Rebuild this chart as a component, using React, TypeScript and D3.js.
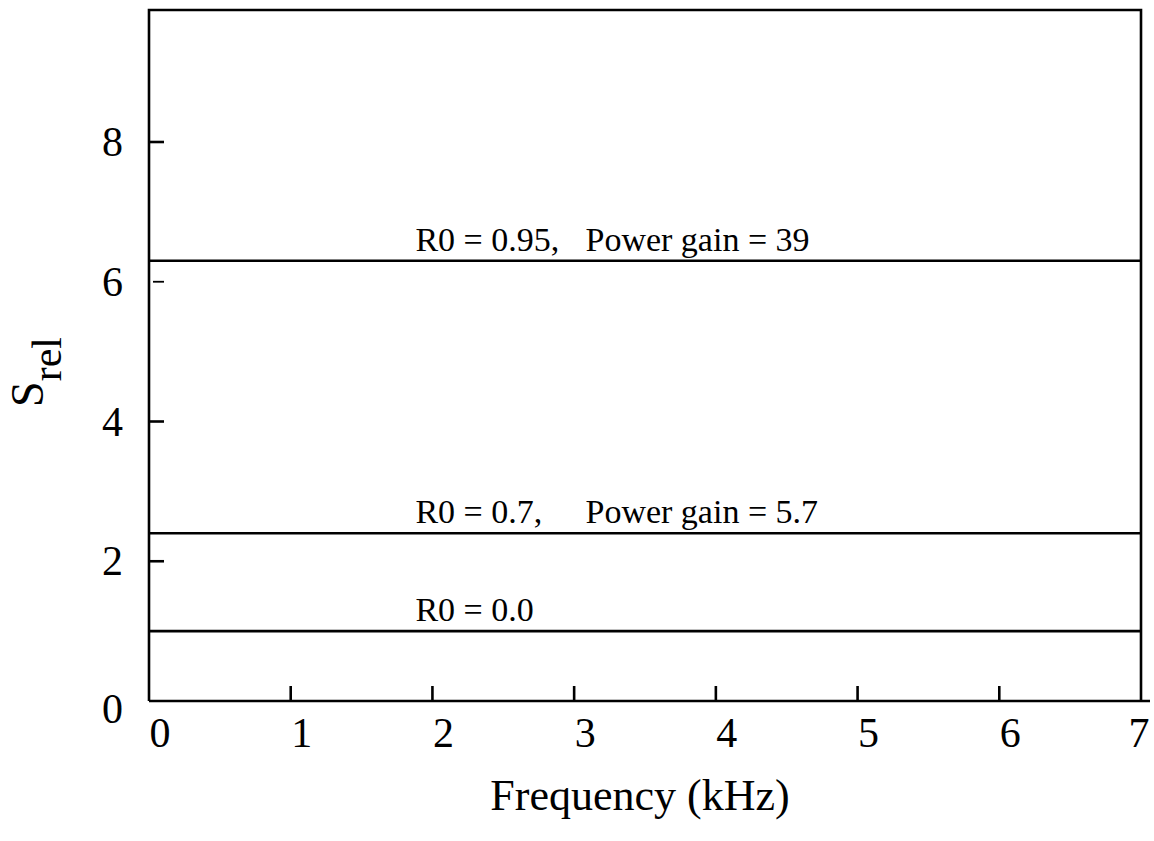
import React, { useEffect, useRef } from 'react';
import * as d3 from 'd3';

// frequency axis (kHz) and S_rel axis
const xTicks = [0, 1, 2, 3, 4, 5, 6, 7];
const yTicks = [0, 2, 4, 6, 8];

// one flat line per reflectivity
const r0Labels = ["R0 = 0.0", "R0 = 0.7,", "R0 = 0.95,"];
const gainLabels = ["", "Power gain = 5.7", "Power gain = 39"];
const srelValues = [1.0, 2.4, 6.3];
const freqRange = [0, 7];

const App = () => {
    const svgRef = useRef(null);

    useEffect(() => {
        const svg = d3.select(svgRef.current);
        svg.selectAll("*").remove();

        const width = 1154;
        const height = 841;
        const stroke = 2.6;

        const x = d3.scaleLinear([0, 7], [149, 1141]);
        const y = d3.scaleLinear([0, 8], [701, 142]);
        const yTop = 9.89;

        svg.attr("width", width)
            .attr("height", height)
            .attr("viewBox", [0, 0, width, height])
            .style("position", "absolute")
            .style("left", 0)
            .style("top", 0)
            .style("background", "#fff")
            .style("font-family", "Liberation Serif, Times New Roman, Times, serif");

        const frame = svg.append("g")
            .attr("stroke", "#000")
            .attr("stroke-width", stroke)
            .attr("fill", "none");

        // box: left, top, right, bottom (bottom runs a bit past the right edge)
        frame.append("path")
            .attr("d", `M${x(0)},${y(0)}V${y(yTop)}H${x(7)}V${y(0)}`);
        frame.append("line")
            .attr("x1", x(0)).attr("x2", x(7) + 9)
            .attr("y1", y(0)).attr("y2", y(0));

        // x ticks point up into the plot
        frame.selectAll(".xt")
            .data(xTicks.slice(1, -1))
            .join("line")
            .attr("x1", d => x(d)).attr("x2", d => x(d))
            .attr("y1", y(0)).attr("y2", y(0) - 15);

        // y ticks point right into the plot; the one at 6 sits loose off the axis
        frame.selectAll(".yt")
            .data(yTicks.slice(1))
            .join("line")
            .attr("x1", d => d === 6 ? x(0) + 4 : x(0))
            .attr("x2", x(0) + 15)
            .attr("y1", d => y(d)).attr("y2", d => y(d))
            .attr("stroke-width", d => d === 6 ? 1.8 : stroke);

        svg.append("g")
            .attr("font-size", 42)
            .attr("text-anchor", "middle")
            .selectAll("text")
            .data(xTicks)
            .join("text")
            .attr("x", (d, i) => i === xTicks.length - 1 ? x(d) - 2 : x(d) + 11)
            .attr("y", y(0) + 46)
            .text(d => d);

        svg.append("g")
            .attr("font-size", 42)
            .attr("text-anchor", "end")
            .selectAll("text")
            .data(yTicks)
            .join("text")
            .attr("x", x(0) - 26)
            .attr("y", d => d === 0 ? y(d) + 22 : y(d) + 14)
            .text(d => d);

        // data lines
        const line = d3.line()
            .x(d => x(d[0]))
            .y(d => y(d[1]));

        svg.append("g")
            .selectAll("path")
            .data(srelValues)
            .join("path")
            .attr("fill", "none")
            .attr("stroke", "#000")
            .attr("stroke-width", stroke)
            .attr("d", v => line(freqRange.map(f => [f, v])));

        const labels = svg.append("g")
            .attr("font-size", 34);

        labels.selectAll(".r0")
            .data(srelValues)
            .join("text")
            .attr("x", x(1.88))
            .attr("y", d => y(d) - 10)
            .text((d, i) => r0Labels[i]);

        labels.selectAll(".gain")
            .data(srelValues)
            .join("text")
            .attr("x", x(3.08))
            .attr("y", d => y(d) - 10)
            .text((d, i) => gainLabels[i]);

        svg.append("text")
            .attr("font-size", 44)
            .attr("text-anchor", "middle")
            .attr("x", 640)
            .attr("y", 810)
            .text("Frequency (kHz)");

        const yTitle = svg.append("text")
            .attr("font-size", 46)
            .attr("text-anchor", "middle")
            .attr("transform", "translate(43,372) rotate(-90)");
        yTitle.append("tspan").text("S");
        yTitle.append("tspan")
            .attr("font-size", 42)
            .attr("dy", 18)
            .text("rel");
    }, []);

    return <svg ref={svgRef} />;
};

export default App;
